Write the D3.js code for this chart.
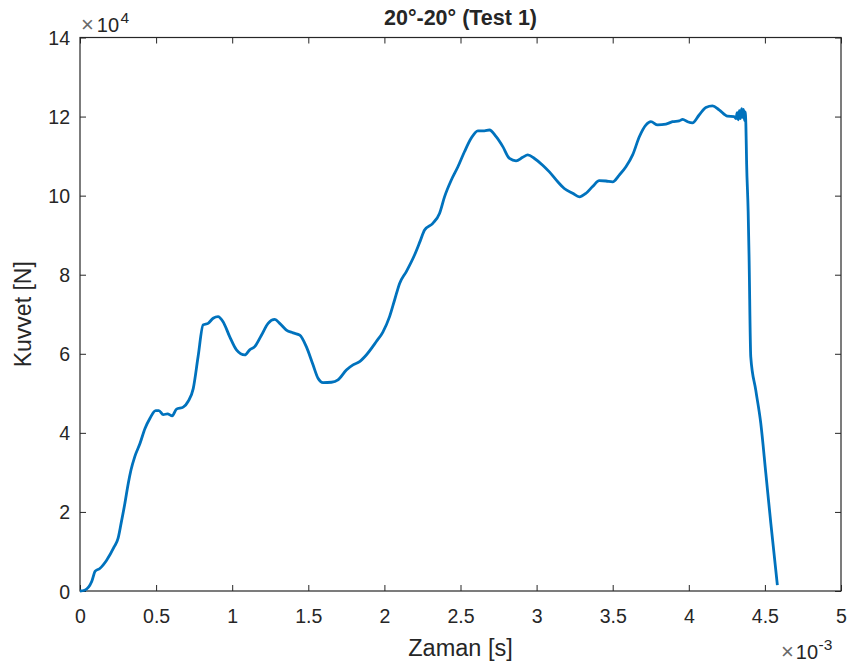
<!DOCTYPE html>
<html>
<head>
<meta charset="utf-8">
<script src="https://cdn.jsdelivr.net/npm/d3@7"></script>
<style>
  html, body { margin: 0; padding: 0; background: #fff; }
  svg { display: block; }
  text { font-family: "Liberation Sans", Arial, Helvetica, sans-serif; fill: #262626; }
</style>
</head>
<body>
<svg id="chart" width="852" height="665"></svg>
<script>
// Time in units of 1e-3 s, force in units of 1e4 N
const timeE3 = [0, 0.03, 0.077, 0.10, 0.13, 0.175, 0.225, 0.25, 0.27, 0.295, 0.317, 0.335, 0.36, 0.394, 0.427, 0.46, 0.497, 0.518, 0.547, 0.575, 0.606, 0.634, 0.678, 0.711, 0.744, 0.776, 0.809, 0.842, 0.875, 0.907, 0.94, 0.984, 1.028, 1.083, 1.115, 1.148, 1.192, 1.236, 1.28, 1.312, 1.356, 1.40, 1.444, 1.487, 1.531, 1.564, 1.597, 1.652, 1.695, 1.75, 1.794, 1.837, 1.881, 1.947, 1.99, 2.034, 2.067, 2.10, 2.144, 2.198, 2.235, 2.264, 2.318, 2.362, 2.395, 2.439, 2.483, 2.526, 2.57, 2.614, 2.657, 2.69, 2.734, 2.778, 2.822, 2.865, 2.909, 2.942, 2.986, 3.04, 3.084, 3.139, 3.182, 3.237, 3.281, 3.325, 3.368, 3.412, 3.456, 3.50, 3.543, 3.587, 3.631, 3.675, 3.719, 3.751, 3.795, 3.85, 3.893, 3.937, 3.96, 3.992, 4.024, 4.068, 4.112, 4.156, 4.199, 4.254, 4.298, 4.31, 4.318, 4.325, 4.332, 4.34, 4.347, 4.354, 4.36, 4.366, 4.37, 4.375, 4.38, 4.39, 4.396, 4.407, 4.44, 4.473, 4.506, 4.539, 4.582];
const forceE4 = [0, 0.02, 0.24, 0.50, 0.57, 0.78, 1.12, 1.33, 1.71, 2.22, 2.72, 3.06, 3.40, 3.73, 4.11, 4.37, 4.56, 4.56, 4.46, 4.48, 4.43, 4.60, 4.65, 4.80, 5.12, 5.93, 6.73, 6.77, 6.90, 6.94, 6.81, 6.43, 6.10, 5.97, 6.10, 6.18, 6.47, 6.77, 6.87, 6.77, 6.60, 6.53, 6.47, 6.18, 5.72, 5.38, 5.27, 5.28, 5.34, 5.59, 5.72, 5.80, 5.97, 6.31, 6.55, 6.94, 7.36, 7.78, 8.08, 8.50, 8.85, 9.13, 9.30, 9.55, 9.97, 10.39, 10.73, 11.11, 11.45, 11.64, 11.64, 11.66, 11.49, 11.24, 10.94, 10.88, 10.97, 11.03, 10.94, 10.77, 10.60, 10.35, 10.18, 10.06, 9.97, 10.06, 10.23, 10.38, 10.37, 10.35, 10.52, 10.73, 11.03, 11.49, 11.79, 11.87, 11.79, 11.81, 11.87, 11.89, 11.93, 11.87, 11.84, 12.04, 12.23, 12.27, 12.17, 12.01, 12.00, 11.95, 12.10, 11.92, 12.15, 11.95, 12.20, 11.98, 12.18, 11.90, 12.12, 11.80, 10.80, 9.60, 8.45, 5.93, 5.08, 4.24, 2.98, 1.71, 0.15];

const xTicks = [0, 0.5, 1, 1.5, 2, 2.5, 3, 3.5, 4, 4.5, 5];
const yTicks = [0, 2, 4, 6, 8, 10, 12, 14];

const titleText = "20°-20° (Test 1)";
const xLabelText = "Zaman [s]";
const yLabelText = "Kuvvet [N]";

(function () {
const svg = d3.select("#chart");
const mLeft = 80, mRight = 841, mTop = 37.5, mBottom = 591;
const axisColor = "#262626";
const lineColor = "#0072BD";

const x = d3.scaleLinear().domain([0, 5]).range([mLeft, mRight]);
const y = d3.scaleLinear().domain([0, 14]).range([mBottom, mTop]);

const fmt = d => String(d);
const tickLen = 6;
const tickFont = "19.5px";

const gB = svg.append("g").attr("transform", `translate(0,${mBottom})`)
  .call(d3.axisBottom(x).tickValues(xTicks).tickFormat(fmt).tickSizeInner(-tickLen).tickSizeOuter(0).tickPadding(18));
const gT = svg.append("g").attr("transform", `translate(0,${mTop})`)
  .call(d3.axisTop(x).tickValues(xTicks).tickFormat("").tickSizeInner(-tickLen).tickSizeOuter(0));
const gL = svg.append("g").attr("transform", `translate(${mLeft},0)`)
  .call(d3.axisLeft(y).tickValues(yTicks).tickFormat(fmt).tickSizeInner(-tickLen).tickSizeOuter(0).tickPadding(10));
const gR = svg.append("g").attr("transform", `translate(${mRight},0)`)
  .call(d3.axisRight(y).tickValues(yTicks).tickFormat("").tickSizeInner(-tickLen).tickSizeOuter(0));

[gB, gT, gL, gR].forEach(g => {
  g.select(".domain").remove();
  g.selectAll(".tick line").attr("stroke", axisColor).attr("stroke-width", 1);
  g.selectAll(".tick text").attr("fill", axisColor)
    .style("font-size", tickFont).style("font-family", "'Liberation Sans', Arial, sans-serif");
});
gB.selectAll(".tick text").attr("y", 0).attr("dy", null)
  .attr("transform", "translate(0,32)");
gL.selectAll(".tick text").attr("dy", "0.36em");

svg.append("rect")
  .attr("x", mLeft).attr("y", mTop)
  .attr("width", mRight - mLeft).attr("height", mBottom - mTop)
  .attr("fill", "none").attr("stroke", axisColor).attr("stroke-width", 1.2);

const pts = timeE3.map((t, i) => [t, forceE4[i]]);
svg.append("path")
  .datum(pts)
  .attr("fill", "none")
  .attr("stroke", lineColor)
  .attr("stroke-width", 2.8)
  .attr("stroke-linejoin", "round")
  .attr("stroke-linecap", "butt")
  .attr("d", d3.line().curve(d3.curveMonotoneX).x(d => x(d[0])).y(d => y(d[1])));

svg.append("text")
  .attr("x", (mLeft + mRight) / 2).attr("y", 24.5)
  .attr("text-anchor", "middle")
  .style("font-size", "21.5px").style("font-weight", "bold")
  .text(titleText);

svg.append("text")
  .attr("x", (mLeft + mRight) / 2).attr("y", 656)
  .attr("text-anchor", "middle")
  .style("font-size", "23.5px")
  .text(xLabelText);

svg.append("text")
  .attr("transform", `translate(31,${(mTop + mBottom) / 2}) rotate(-90)`)
  .attr("text-anchor", "middle")
  .style("font-size", "23px")
  .text(yLabelText);

const e1 = svg.append("text").attr("x", 81).attr("y", 31.5).style("font-size", "20px");
e1.append("tspan").text("\u00D7").style("font-size", "22px").attr("fill", "#6a6a6a");
e1.append("tspan").text("10").attr("dx", 3).attr("fill", axisColor);
e1.append("tspan").text("4").attr("dx", 1.5).attr("dy", -8.5).style("font-size", "15.5px").attr("fill", axisColor);

const e2 = svg.append("text").attr("x", 781).attr("y", 658.5).style("font-size", "20px");
e2.append("tspan").text("\u00D7").style("font-size", "22px").attr("fill", "#6a6a6a");
e2.append("tspan").text("10").attr("dx", 2).attr("fill", axisColor);
e2.append("tspan").text("-3").attr("dx", 0.5).attr("dy", -8.5).style("font-size", "15.5px").attr("fill", axisColor);
})();
</script>
</body>
</html>
